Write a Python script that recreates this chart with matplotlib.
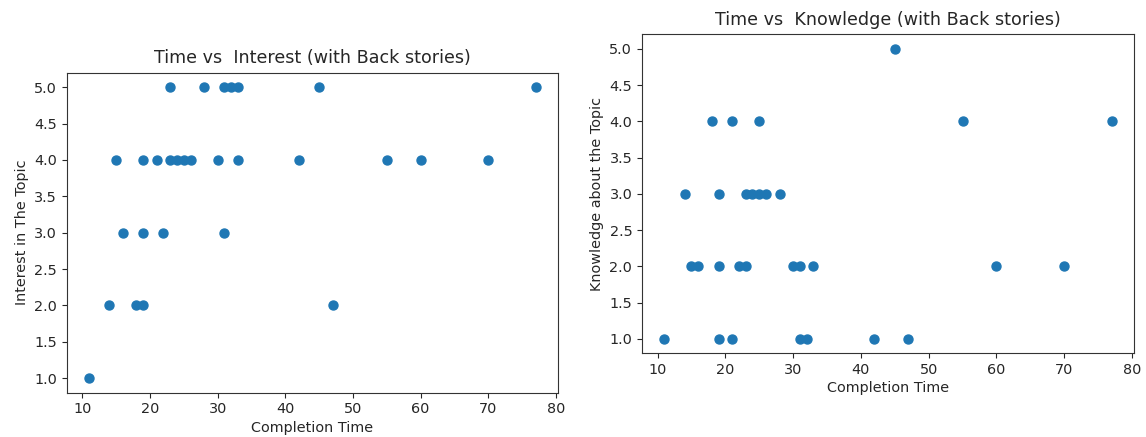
import matplotlib
matplotlib.use("Agg")
import matplotlib.pyplot as plt

# completion time (minutes) vs interest rating
time_interest = [23, 28, 31, 32, 33, 45, 77,
                 15, 19, 21, 23, 24, 25, 26, 30, 33, 42, 55, 60, 70,
                 16, 19, 22, 31,
                 14, 18, 19, 47,
                 11]
interest = [5, 5, 5, 5, 5, 5, 5,
            4, 4, 4, 4, 4, 4, 4, 4, 4, 4, 4, 4, 4,
            3, 3, 3, 3,
            2, 2, 2, 2,
            1]

# completion time (minutes) vs knowledge rating
time_knowledge = [45,
                  18, 21, 25, 55, 77,
                  14, 19, 23, 24, 25, 26, 28,
                  15, 16, 19, 22, 23, 30, 31, 33, 60, 70,
                  11, 19, 21, 31, 32, 42, 47]
knowledge = [5,
             4, 4, 4, 4, 4,
             3, 3, 3, 3, 3, 3, 3,
             2, 2, 2, 2, 2, 2, 2, 2, 2, 2,
             1, 1, 1, 1, 1, 1, 1]

plt.rcParams['font.size'] = 10.4
plt.rcParams['axes.titlesize'] = 12.6
plt.rcParams['axes.labelsize'] = 10.4
plt.rcParams['axes.edgecolor'] = '#333333'
plt.rcParams['text.color'] = '#262626'
plt.rcParams['axes.labelcolor'] = '#262626'
plt.rcParams['xtick.color'] = '#262626'
plt.rcParams['ytick.color'] = '#262626'

fig = plt.figure(figsize=(11.46, 4.37), dpi=100)

ax1 = fig.add_axes([0.0582, 0.1014, 0.4287, 0.7323])
ax1.scatter(time_interest, interest, s=42)
ax1.set_title("Time vs  Interest (with Back stories)", pad=7)
ax1.set_xlabel("Completion Time", labelpad=3)
ax1.set_ylabel("Interest in The Topic")

ax2 = fig.add_axes([0.5602, 0.1915, 0.4293, 0.730])
ax2.scatter(time_knowledge, knowledge, s=42)
ax2.set_title("Time vs  Knowledge (with Back stories)", pad=7)
ax2.set_xlabel("Completion Time", labelpad=3)
ax2.set_ylabel("Knowledge about the Topic")

fig.savefig("out.png", dpi=100)
